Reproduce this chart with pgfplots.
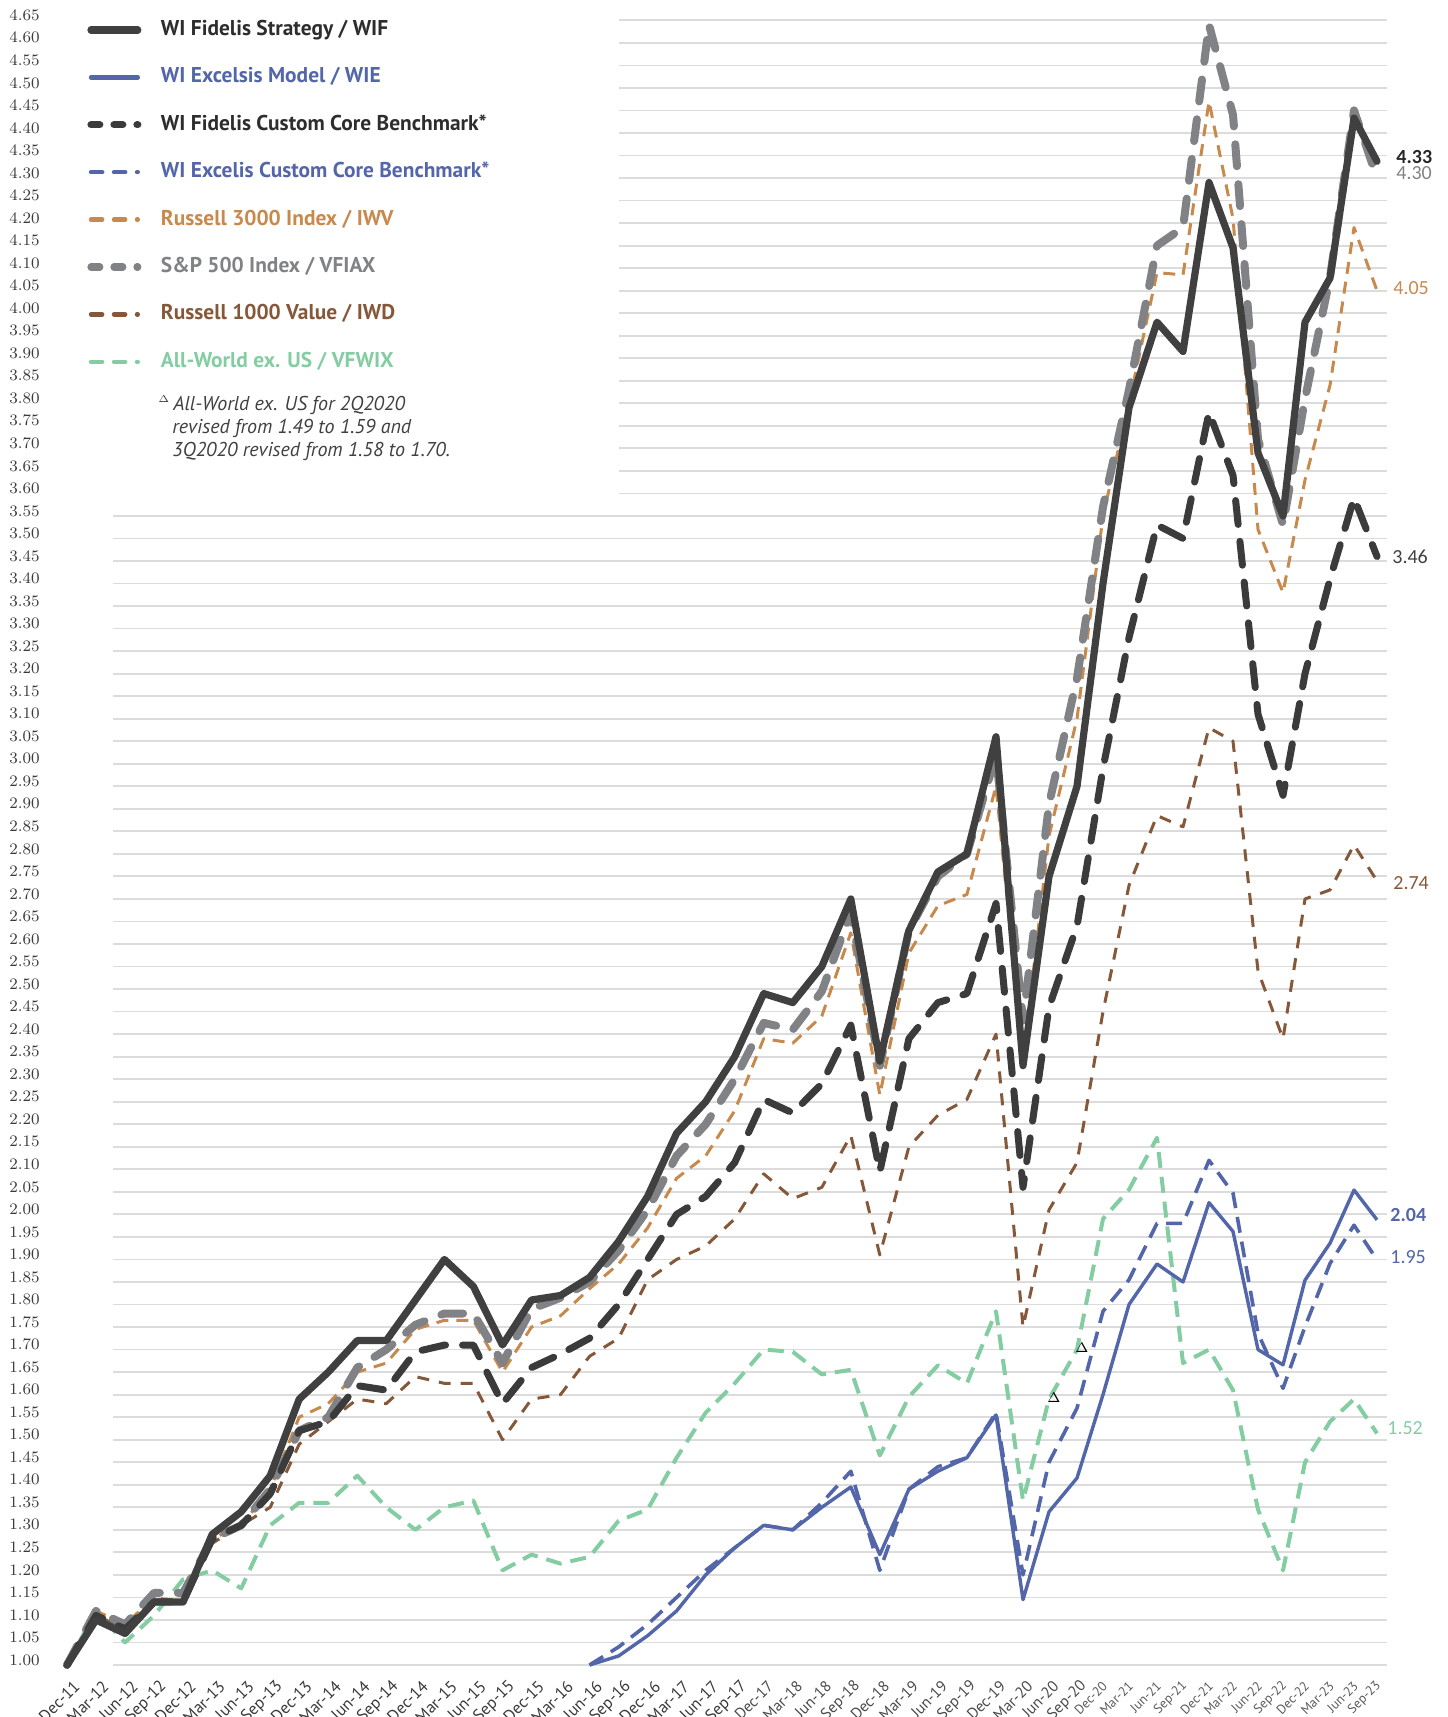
\documentclass[border=0pt]{standalone}
\usepackage{fontspec}
\setmainfont{PT Sans}
\newfontfamily\endfont{Carlito}
\usepackage{pgfplots}
\usepackage{pgfplotstable}
\pgfplotsset{compat=1.18}
\definecolor{wifc}{HTML}{404040}
\definecolor{wiec}{HTML}{5366AA}
\definecolor{fcbc}{HTML}{3B3B3B}
\definecolor{r3c}{HTML}{C8894C}
\definecolor{spc}{HTML}{808285}
\definecolor{rvc}{HTML}{86583A}
\definecolor{awc}{HTML}{84CDA3}
\definecolor{gridc}{HTML}{DCDCDC}
\definecolor{tickc}{HTML}{3A3A3A}
\definecolor{tickm}{HTML}{4A4A4A}
\definecolor{tickr}{HTML}{5A5A5A}

\pgfplotstableread{
x wif wie fcb ecb r3 sp rv aw
67 1.00 nan 1.00 nan 1.00 1.00 1.00 1.00
96 1.10 nan 1.11 nan 1.12 1.12 1.11 1.12
125.1 1.07 nan 1.08 nan 1.09 1.09 1.08 1.05
154.1 1.14 nan 1.14 nan 1.15 1.16 1.14 1.11
183.1 1.14 nan 1.14 nan 1.14 1.16 1.14 1.19
212.2 1.29 nan 1.28 nan 1.28 1.28 1.27 1.21
241.2 1.34 nan 1.31 nan 1.31 1.31 1.31 1.17
270.2 1.42 nan 1.38 nan 1.39 1.39 1.35 1.31
299.2 1.59 nan 1.52 nan 1.55 1.52 1.49 1.36
328.3 1.65 nan 1.54 nan 1.58 1.55 1.54 1.36
357.3 1.72 nan 1.62 nan 1.65 1.66 1.59 1.42
386.3 1.72 nan 1.61 nan 1.67 1.70 1.58 1.35
415.4 1.81 nan 1.695 nan 1.745 1.755 1.64 1.30
444.4 1.90 nan 1.71 nan 1.765 1.78 1.625 1.35
473.4 1.84 nan 1.71 nan 1.765 1.78 1.625 1.365
502.5 1.71 nan 1.58 nan 1.65 1.67 1.50 1.21
531.5 1.81 nan 1.66 nan 1.75 1.79 1.59 1.245
560.5 1.82 nan 1.69 nan 1.775 1.815 1.60 1.225
589.5 1.86 1.00 1.725 1.00 1.835 1.85 1.685 1.24
618.6 1.94 1.02 1.80 1.04 1.89 1.92 1.725 1.32
647.6 2.04 1.065 1.90 1.09 1.97 2.01 1.855 1.345
676.6 2.18 1.12 2.00 1.15 2.08 2.13 1.90 1.46
705.7 2.25 1.20 2.04 1.21 2.13 2.20 1.93 1.56
734.7 2.35 1.26 2.115 1.26 2.23 2.30 1.99 1.625
763.7 2.49 1.31 2.255 1.31 2.39 2.425 2.09 1.70
792.8 2.47 1.30 2.225 1.30 2.38 2.41 2.035 1.695
821.8 2.55 1.35 2.29 1.36 2.44 2.495 2.06 1.645
850.8 2.70 1.395 2.42 1.43 2.625 2.67 2.175 1.655
879.8 2.34 1.245 2.095 1.21 2.265 2.33 1.91 1.465
908.9 2.63 1.39 2.39 1.39 2.58 2.63 2.15 1.595
937.9 2.76 1.43 2.47 1.44 2.685 2.75 2.22 1.665
966.9 2.80 1.46 2.49 1.46 2.71 2.80 2.255 1.625
996 3.06 1.555 2.69 1.56 2.95 3.02 2.40 1.785
1023 2.33 1.145 2.06 1.20 2.34 2.43 1.75 1.365
1049 2.75 1.34 2.46 1.45 2.84 2.91 2.01 1.59
1077 2.95 1.415 2.64 1.57 3.10 3.19 2.115 1.70
1103 3.40 1.60 2.99 1.785 3.55 3.57 2.45 1.99
1129 3.79 1.80 3.28 1.855 3.80 3.83 2.73 2.055
1157 3.98 1.89 3.53 1.98 4.09 4.15 2.885 2.17
1183 3.915 1.85 3.50 1.98 4.085 4.19 2.86 1.67
1209 4.29 2.026 3.78 2.12 4.47 4.64 3.08 1.70
1233 4.145 1.962 3.64 2.047 4.21 4.44 3.05 1.61
1258 3.69 1.70 3.11 1.736 3.52 3.72 2.54 1.345
1283 3.55 1.666 2.93 1.614 3.38 3.53 2.39 1.21
1305 3.98 1.854 3.20 1.751 3.63 3.81 2.70 1.45
1330 4.078 1.936 3.41 1.891 3.84 4.08 2.72 1.54
1354 4.433 2.054 3.59 1.976 4.19 4.45 2.82 1.59
1377 4.337 1.988 3.46 1.899 4.05 4.30 2.74 1.514
}\data

\newcommand{\xa}[1]{{\color{tickc}\fontsize{8.3}{8.3}\selectfont #1}}
\newcommand{\xm}[1]{{\color{tickm}\fontsize{7.8}{7.8}\selectfont #1}}
\newcommand{\xb}[1]{{\color{tickr}\fontsize{6.6}{6.6}\selectfont #1}}

\begin{document}
\begin{tikzpicture}
\useasboundingbox (0,0) rectangle (723.5pt,858.5pt);
\begin{axis}[
  at={(0,0)}, anchor=south west,
  scale only axis, width=723.5pt, height=858.5pt,
  xmin=0, xmax=1447, ymin=0.88460, ymax=4.69507,
  clip=false,
  axis line style={draw=none}, tick style={draw=none}, major tick length=0pt,
  ytick={1.00,1.05,...,4.66},
  yticklabel={\pgfmathprintnumber[fixed,fixed zerofill,precision=2]{\tick}},
  yticklabel style={anchor=west, inner sep=0pt, xshift=4.5pt, yshift=2.5pt,
    font=\fontsize{8}{8}\selectfont, text=tickc},
  xtick={77,106,135.1,164.1,193.1,222.2,251.2,280.2,309.2,338.3,367.3,396.3,425.4,454.4,483.4,512.5,541.5,570.5,599.5,628.6,657.6,686.6,715.7,744.7,770.7,799.8,828.8,857.8,886.8,915.9,944.9,973.9,1003,1030,1056,1084,1105,1131,1159,1185,1211,1235,1260,1285,1307,1332,1356,1379},
  xticklabels={\xa{Dec-11},\xa{Mar-12},\xa{Jun-12},\xa{Sep-12},\xa{Dec-12},\xa{Mar-13},\xa{Jun-13},\xa{Sep-13},\xa{Dec-13},\xa{Mar-14},\xa{Jun-14},\xa{Sep-14},\xa{Dec-14},\xa{Mar-15},\xa{Jun-15},\xa{Sep-15},\xa{Dec-15},\xa{Mar-16},\xa{Jun-16},\xa{Sep-16},\xa{Dec-16},\xa{Mar-17},\xa{Jun-17},\xa{Sep-17},\xm{Dec-17},\xm{Mar-18},\xm{Jun-18},\xm{Sep-18},\xm{Dec-18},\xm{Mar-19},\xm{Jun-19},\xm{Sep-19},\xm{Dec-19},\xm{Mar-20},\xm{Jun-20},\xm{Sep-20},\xb{Dec-20},\xb{Mar-21},\xb{Jun-21},\xb{Sep-21},\xb{Dec-21},\xb{Mar-22},\xb{Jun-22},\xb{Sep-22},\xb{Dec-22},\xb{Mar-23},\xb{Jun-23},\xb{Sep-23}},
  xticklabel shift=-16.7pt,
  xticklabel style={rotate=45, anchor=east, inner sep=0pt},
  legend image code/.code={\draw[#1] (1.8pt,0pt) -- (25.2pt,0pt);},
  legend style={at={(axis description cs:0.0604,0.9886)}, anchor=north west,
    draw=none, fill=none, inner sep=0pt, outer sep=0pt, row sep=13.2pt,
    font=\fontsize{10.7}{10.7}\selectfont\bfseries,
    nodes={inner sep=0pt, text height=8pt, text depth=2.5pt},
    /tikz/column 1/.style={column sep=9.8pt}},
  legend cell align=left,
]
% gridlines
\pgfplotsinvokeforeach{1.00,1.05,...,3.56}{\draw[gridc, line width=0.9pt] (axis cs:113,#1) -- (axis cs:1387,#1);}
\pgfplotsinvokeforeach{3.60,3.65,...,4.66}{\draw[gridc, line width=0.9pt] (axis cs:619,#1) -- (axis cs:1387,#1);}

% series
\addplot[forget plot, awc, line width=2pt, dash pattern=on 8pt off 4.5pt, line join=round] table[x=x,y=aw]{\data};
\addplot[forget plot, rvc, line width=1.5pt, dash pattern=on 6pt off 5pt, line join=round] table[x=x,y=rv]{\data};
\addplot[forget plot, r3c, line width=1.5pt, dash pattern=on 6pt off 4pt, line join=round] table[x=x,y=r3]{\data};
\addplot[forget plot, spc, line width=4pt, dash pattern=on 11pt off 9pt, line cap=round, line join=round] table[x=x,y=sp]{\data};
\addplot[forget plot, wiec, line width=1.8pt, dash pattern=on 8pt off 4.5pt, line join=round] table[x=x,y=ecb]{\data};
\addplot[forget plot, wiec, line width=1.7pt, line join=round] table[x=x,y=wie]{\data};
\addplot[forget plot, fcbc, line width=3.5pt, dash pattern=on 12pt off 8.5pt, line cap=round, line join=round] table[x=x,y=fcb]{\data};
\addplot[forget plot, wifc, line width=3.6pt, line join=round, line cap=round] table[x=x,y=wif]{\data};

% revised markers
\addplot[forget plot, draw=none, mark=none, nodes near coords={$\Delta$},
  every node near coord/.style={anchor=center, font=\fontsize{7}{7}\selectfont, xshift=2.5pt, yshift=1pt}]
  coordinates {(1049,1.588) (1077,1.699)};

% legend
\addlegendimage{wifc, line width=3.6pt, line cap=round}
\addlegendentry{\textcolor{wifc!70!black}{WI Fidelis Strategy / WIF}}
\addlegendimage{wiec, line width=2.2pt, line cap=round}
\addlegendentry{\textcolor{wiec}{WI Excelsis Model / WIE}}
\addlegendimage{fcbc, line width=3.6pt, line cap=round, dash pattern=on 4.4pt off 7.1pt}
\addlegendentry{\textcolor{wifc!70!black}{WI Fidelis Custom Core Benchmark*}}
\addlegendimage{wiec, line width=2.2pt, line cap=round, dash pattern=on 5.6pt off 5.9pt}
\addlegendentry{\textcolor{wiec}{WI Excelis Custom Core Benchmark*}}
\addlegendimage{r3c, line width=2.2pt, line cap=round, dash pattern=on 5.6pt off 5.9pt}
\addlegendentry{\textcolor{r3c}{Russell 3000 Index / IWV}}
\addlegendimage{spc, line width=3.6pt, line cap=round, dash pattern=on 4.4pt off 7.1pt}
\addlegendentry{\textcolor{spc}{S\&P 500 Index / VFIAX}}
\addlegendimage{rvc, line width=2.2pt, line cap=round, dash pattern=on 5.6pt off 5.9pt}
\addlegendentry{\textcolor{rvc}{Russell 1000 Value / IWD}}
\addlegendimage{awc, line width=2.2pt, line cap=round, dash pattern=on 5.6pt off 5.9pt}
\addlegendentry{\textcolor{awc}{All-World ex. US / VFWIX}}

% footnote
\node[anchor=base west, inner sep=0pt, font=\fontsize{10}{10}\selectfont\itshape, text=wifc] at (axis cs:158,3.784) {\raisebox{4pt}{\fontsize{5.5}{5.5}\selectfont$\Delta$}\kern2pt All-World ex. US for 2Q2020};
\node[anchor=base west, inner sep=0pt, font=\fontsize{10}{10}\selectfont\itshape, text=wifc] at (axis cs:172,3.733) {revised from 1.49 to 1.59 and};
\node[anchor=base west, inner sep=0pt, font=\fontsize{10}{10}\selectfont\itshape, text=wifc] at (axis cs:172,3.682) {3Q2020 revised from 1.58 to 1.70.};

% end labels
\begin{scope}[every node/.style={anchor=west, inner sep=0pt, font=\endfont\fontsize{10}{10}\selectfont}]
\node[text=wifc!60!black, font=\endfont\fontsize{10}{10}\selectfont\bfseries] at (axis cs:1396,4.3467) {4.33};
\node[text=spc] at (axis cs:1396,4.3112) {4.30};
\node[text=r3c] at (axis cs:1393,4.056) {4.05};
\node[text=wifc] at (axis cs:1392,3.459) {3.46};
\node[text=rvc] at (axis cs:1393,2.7355) {2.74};
\node[text=wiec, font=\endfont\fontsize{10}{10}\selectfont\bfseries] at (axis cs:1390,1.9987) {2.04};
\node[text=wiec] at (axis cs:1390,1.9055) {1.95};
\node[text=awc] at (axis cs:1387,1.526) {1.52};
\end{scope}
\end{axis}
\end{tikzpicture}
\end{document}
